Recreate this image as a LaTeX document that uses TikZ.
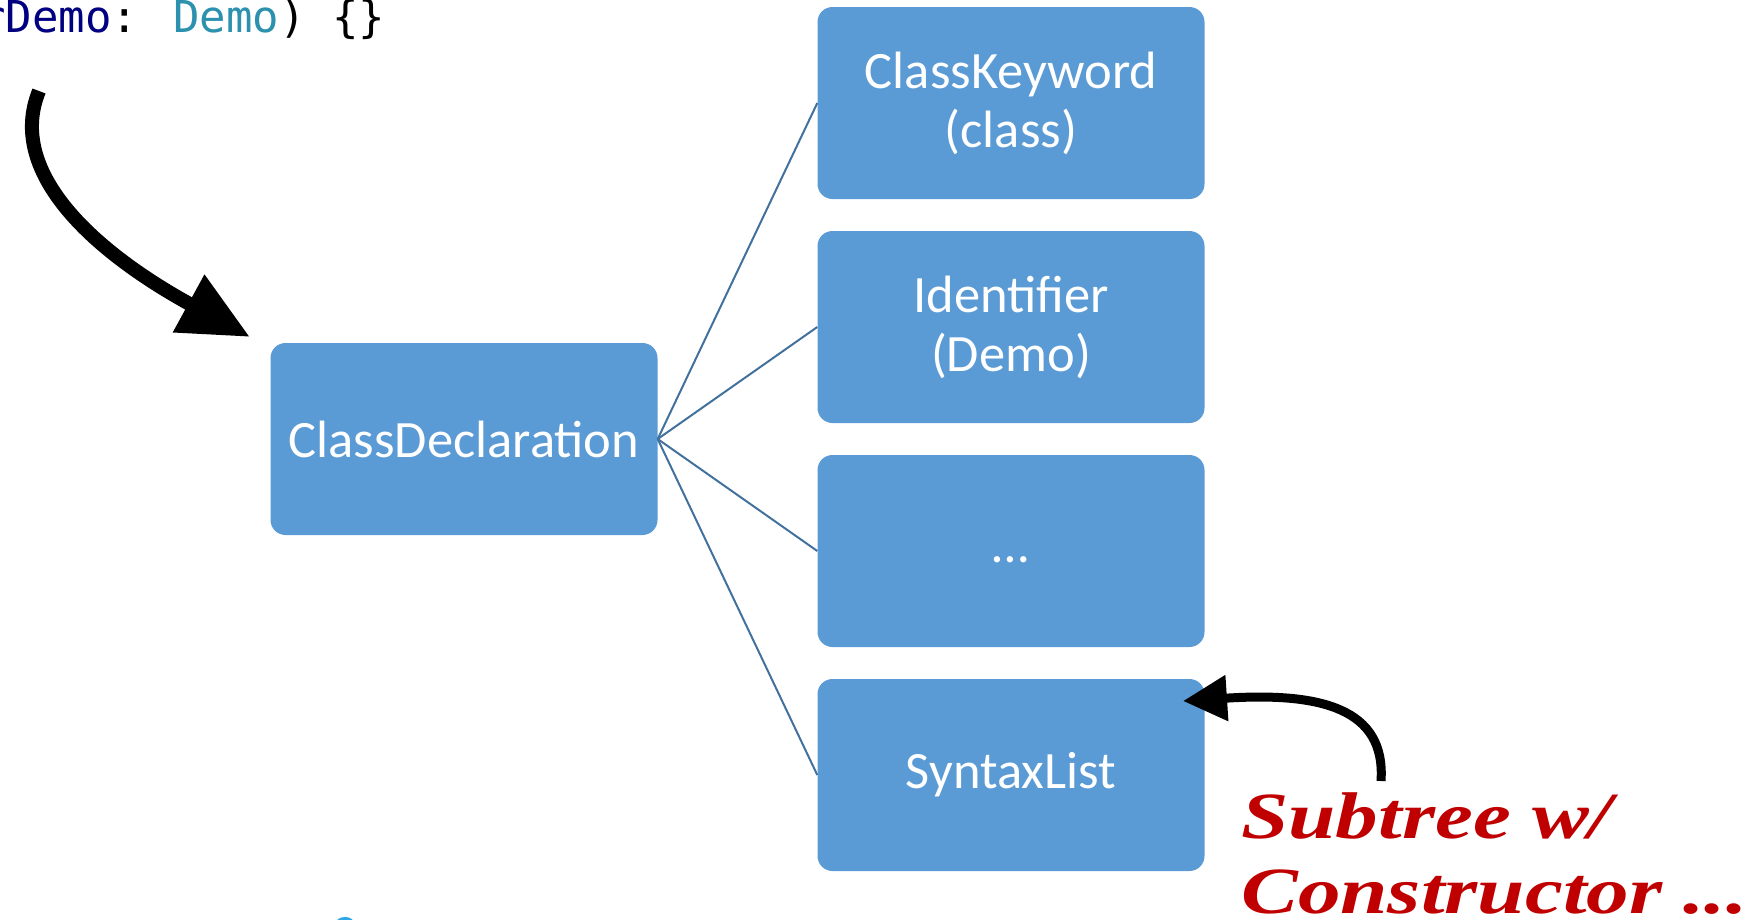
\documentclass[tikz,border=0pt]{standalone}
\usepackage{fontspec}
\setmainfont{Carlito}
\newfontfamily\codefont{DejaVu Sans Mono}
\newfontfamily\notefont{Liberation Serif}
\usepackage{tikz}
\usetikzlibrary{arrows.meta}
\definecolor{boxblue}{HTML}{5B9BD5}
\definecolor{linkblue}{HTML}{41719C}
\definecolor{kwnavy}{HTML}{000080}
\definecolor{typeteal}{HTML}{2B91AF}
\definecolor{notered}{HTML}{C00000}
\definecolor{blobblue}{HTML}{2FA6E6}

\begin{document}
\begin{tikzpicture}[x=1pt,y=-1pt]
        \useasboundingbox (0,0) rectangle (1764,919);
        \clip (0,0) rectangle (1764,919);
        \tikzstyle{block} = [fill=boxblue, text=white, rounded corners=15pt, minimum width=387pt, minimum height=192pt, inner sep=0pt, align=center, font=\fontsize{52.5}{59}\selectfont]
        \tikzstyle{link} = [draw=linkblue, line width=2pt]
        \tikzstyle{bigarrow} = [line width=14pt, -{Triangle[length=70pt,width=62pt]}]
        \tikzstyle{smallarrow} = [line width=9pt, -{Triangle[length=44pt,width=44pt]}]
        % code line, cut off at the left
        \node[anchor=base west, inner sep=0pt, font=\codefont\fontsize{44}{50}\selectfont] (code) at (-21,32) {\textcolor{kwnavy}{rDemo}: \textcolor{typeteal}{Demo}) \{\}};
        % tree
        \node[block] (decl) at (464,439) {ClassDeclaration};
        \node[block] (kw) at (1011,103) {ClassKeyword\\(class)};
        \node[block] (ident) at (1011,327) {Identifier\\(Demo)};
        \node[block] (more) at (1011,551) {\strut…};
        \node[block] (list) at (1011,775) {SyntaxList};
        \draw[link] (decl.east)--(kw.west);
        \draw[link] (decl.east)--(ident.west);
        \draw[link] (decl.east)--(more.west);
        \draw[link] (decl.east)--(list.west);
        % arrows
        \coordinate (codetail) at (39,91);
        \coordinate (decltip) at (250,337);
        \draw[bigarrow] (codetail) .. controls (5,175) and (100,255) .. (decltip);
        \coordinate (notetail) at (1381,781);
        \coordinate (listtip) at (1183,701);
        \draw[smallarrow] (notetail) .. controls (1386,708) and (1320,692) .. (listtip);
        \node[anchor=base west, inner sep=0pt, text=notered, align=left, xscale=1.29, font=\notefont\bfseries\itshape\fontsize{66}{75}\selectfont] (note) at (1241,913) {Subtree w/\\Constructor ...};
        \fill[blobblue] (345,923) ellipse (9 and 6);
       \end{tikzpicture}
\end{document}
